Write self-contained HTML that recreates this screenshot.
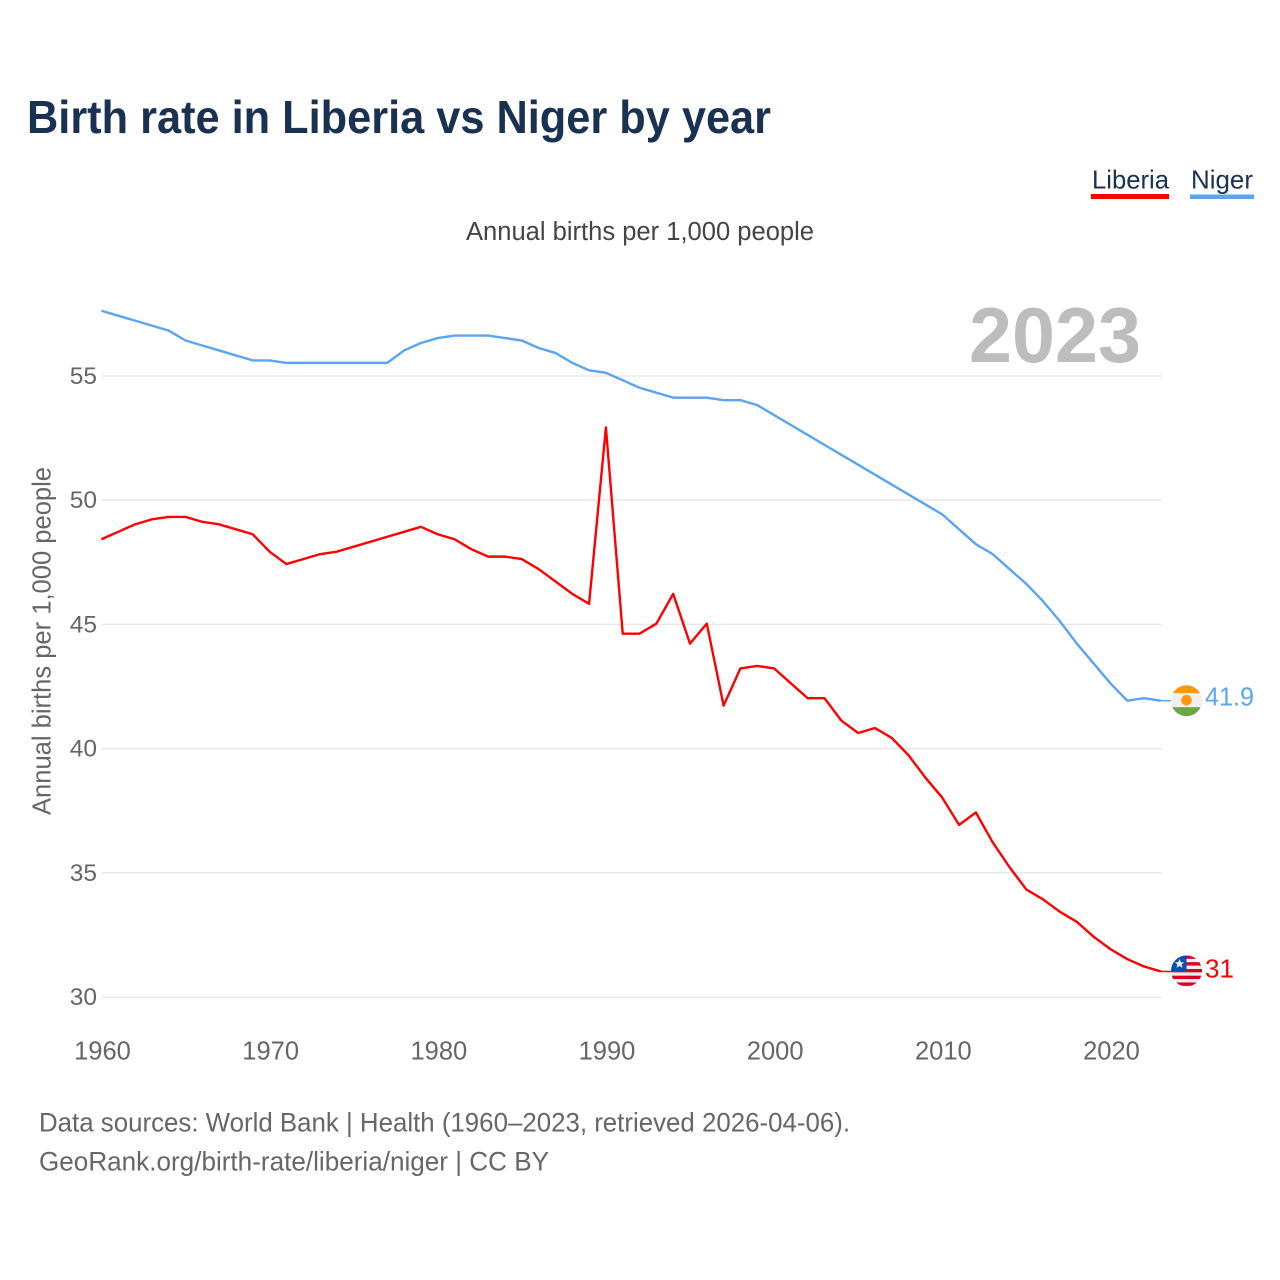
<!DOCTYPE html>
<html lang="en">
<head>
<meta charset="utf-8">
<title>Birth rate in Liberia vs Niger by year</title>
<style>
html,body{margin:0;padding:0;background:#fff;width:1280px;height:1280px;overflow:hidden}
svg{display:block;font-family:"Liberation Sans",sans-serif}
</style>
</head>
<body>
<svg id="chart" width="1280" height="1280" viewBox="0 0 1280 1280" xmlns="http://www.w3.org/2000/svg">
  <defs>
    <clipPath id="flag-clip-niger"><circle cx="0" cy="0" r="15.5"/></clipPath>
    <clipPath id="flag-clip-liberia"><circle cx="0" cy="0" r="15.5"/></clipPath>
  </defs>
  <rect x="0" y="0" width="1280" height="1280" fill="#ffffff"/>
  <text x="27" y="133" font-size="46" font-weight="700" fill="#1a3152" textLength="744" lengthAdjust="spacingAndGlyphs">Birth rate in Liberia vs Niger by year</text>
  <text x="466" y="240" font-size="25.5" fill="#444444" textLength="348" lengthAdjust="spacingAndGlyphs">Annual births per 1,000 people</text>

  <g>
    <g>
      <text x="1092" y="188.5" font-size="26" fill="#1a3152" textLength="77" lengthAdjust="spacingAndGlyphs">Liberia</text>
      <rect x="1091" y="194" width="78" height="5" fill="#ff0000"/>
    </g>
    <g>
      <text x="1191" y="188.5" font-size="26" fill="#1a3152" textLength="62" lengthAdjust="spacingAndGlyphs">Niger</text>
      <rect x="1190" y="194.5" width="64" height="4.5" fill="#5ba4ee"/>
    </g>
  </g>

  <g id="grid"></g>
  <g id="y-ticks"></g>
  <g id="x-ticks"></g>

  <text transform="translate(50.5,815) rotate(-90)" x="0" y="0" font-size="25.5" fill="#666666" textLength="348" lengthAdjust="spacingAndGlyphs">Annual births per 1,000 people</text>

  <text x="969" y="362" font-size="78" font-weight="700" fill="#bdbdbd" textLength="172" lengthAdjust="spacingAndGlyphs">2023</text>

  <g id="series" transform="translate(-0.6,-0.7)"></g>
  <g id="end-labels"></g>

  <g>
    <text x="39" y="1131.5" font-size="26.5" fill="#666666" textLength="811" lengthAdjust="spacingAndGlyphs">Data sources: World Bank | Health (1960–2023, retrieved 2026-04-06).</text>
    <text x="39" y="1170.5" font-size="26.5" fill="#666666" textLength="510" lengthAdjust="spacingAndGlyphs">GeoRank.org/birth-rate/liberia/niger | CC BY</text>
  </g>
</svg>
<script>
var startYear = 1960;
var liberiaValues = [48.4,48.7,49.0,49.2,49.3,49.3,49.1,49.0,48.8,48.6,47.9,47.4,47.6,47.8,47.9,48.1,48.3,48.5,48.7,48.9,48.6,48.4,48.0,47.7,47.7,47.6,47.2,46.7,46.2,45.8,52.9,44.6,44.6,45.0,46.2,44.2,45.0,41.7,43.2,43.3,43.2,42.6,42.0,42.0,41.1,40.6,40.8,40.4,39.7,38.8,38.0,36.9,37.4,36.2,35.2,34.3,33.9,33.4,33.0,32.4,31.9,31.5,31.2,31.0];
var nigerValues = [57.6,57.4,57.2,57.0,56.8,56.4,56.2,56.0,55.8,55.6,55.6,55.5,55.5,55.5,55.5,55.5,55.5,55.5,56.0,56.3,56.5,56.6,56.6,56.6,56.5,56.4,56.1,55.9,55.5,55.2,55.1,54.8,54.5,54.3,54.1,54.1,54.1,54.0,54.0,53.8,53.4,53.0,52.6,52.2,51.8,51.4,51.0,50.6,50.2,49.8,49.4,48.8,48.2,47.8,47.2,46.6,45.9,45.1,44.2,43.4,42.6,41.9,42.0,41.9];
var yTickValues = [30,35,40,45,50,55];
var xTickYears = [1960,1970,1980,1990,2000,2010,2020];
var liberiaEndLabel = "31";
var nigerEndLabel = "41.9";

var SVGNS = "http://www.w3.org/2000/svg";
function xScale(year){ return 102 + (year - 1960) * (1009 / 60); }
function yScale(v){ return 997 - (v - 30) * (621 / 25); }
function make(tag, attrs, parent){
  var el = document.createElementNS(SVGNS, tag);
  for (var k in attrs) el.setAttribute(k, attrs[k]);
  parent.appendChild(el);
  return el;
}

var gridG = document.getElementById("grid");
var yG = document.getElementById("y-ticks");
yTickValues.forEach(function(v){
  var line = make("line", {x1:102, x2:1161.5, y1:yScale(v), y2:yScale(v), stroke:"#e6e6e6", "stroke-width":1.3}, gridG);
  
  
  var t = make("text", {x:97, y:yScale(v)+8, "text-anchor":"end", "font-size":24.5, fill:"#666666"}, yG);
  
  
  t.textContent = v;
});

var xG = document.getElementById("x-ticks");
xTickYears.forEach(function(y){
  var t = make("text", {x:xScale(y)+0.5, y:1059.5, "text-anchor":"middle", "font-size":25.5, fill:"#666666"}, xG);
  
  
  t.textContent = y;
});

function linePath(vals){
  return vals.map(function(v,i){
    return (i ? "L" : "M") + xScale(startYear + i).toFixed(2) + " " + yScale(v).toFixed(2);
  }).join(" ");
}
var seriesG = document.getElementById("series");
var endG = document.getElementById("end-labels");

var nigerLine = make("path", {d:linePath(nigerValues), fill:"none", stroke:"#5ba4ee", "stroke-width":2.4, "stroke-linejoin":"round"}, seriesG);


var liberiaLine = make("path", {d:linePath(liberiaValues), fill:"none", stroke:"#ff0000", "stroke-width":2.4, "stroke-linejoin":"round"}, seriesG);



var lastYear = startYear + liberiaValues.length - 1;
var lastX = xScale(lastYear) - 0.6;
var nigerLastY = yScale(nigerValues[nigerValues.length - 1]) - 0.7;
var liberiaLastY = yScale(liberiaValues[liberiaValues.length - 1]) - 0.7;

var nigerLeader = make("line", {x1:lastX, x2:1171, y1:nigerLastY, y2:nigerLastY, stroke:"#5ba4ee", "stroke-width":1.5}, endG);


var liberiaLeader = make("line", {x1:lastX, x2:1171, y1:liberiaLastY, y2:liberiaLastY, stroke:"#ff0000", "stroke-width":1.5}, endG);



var nigerFlag = make("g", {transform:"translate(1186.5," + nigerLastY + ")", "clip-path":"url(#flag-clip-niger)"}, endG);


make("rect", {x:-16, y:-16, width:32, height:32, fill:"#f0f0f0"}, nigerFlag);
make("rect", {x:-16, y:-16, width:32, height:8.5, fill:"#ff9811"}, nigerFlag);
make("rect", {x:-16, y:6.5, width:32, height:9.5, fill:"#6da544"}, nigerFlag);
make("circle", {cx:0, cy:-0.5, r:5.3, fill:"#ff9811"}, nigerFlag);

var liberiaFlag = make("g", {transform:"translate(1186.5," + (liberiaLastY - 0.5) + ")", "clip-path":"url(#flag-clip-liberia)"}, endG);


make("rect", {x:-16, y:-16, width:32, height:32, fill:"#f0f0f0"}, liberiaFlag);
[-15.5,-8.8,-2,4.7,11.5].forEach(function(sy){
  make("rect", {x:-16, y:sy, width:32, height:3.4, fill:"#d80027"}, liberiaFlag);
});
make("rect", {x:-16, y:-16, width:16, height:16, fill:"#0052b4"}, liberiaFlag);
make("polygon", {points:"-7,-12 -5.6,-8.7 -2.3,-8.7 -4.9,-6.5 -4,-3.1 -7,-5 -10,-3.1 -9.1,-6.5 -11.7,-8.7 -8.4,-8.7", fill:"#f0f0f0"}, liberiaFlag);

var nigerValueLabel = make("text", {x:1205, y:nigerLastY+5, "font-size":25.5, fill:"#5ba4ee", textLength:49, lengthAdjust:"spacingAndGlyphs"}, endG);


nigerValueLabel.textContent = nigerEndLabel;
var liberiaValueLabel = make("text", {x:1205, y:liberiaLastY+6, "font-size":25.5, fill:"#ff0000", textLength:29, lengthAdjust:"spacingAndGlyphs"}, endG);


liberiaValueLabel.textContent = liberiaEndLabel;
</script>
</body>
</html>
